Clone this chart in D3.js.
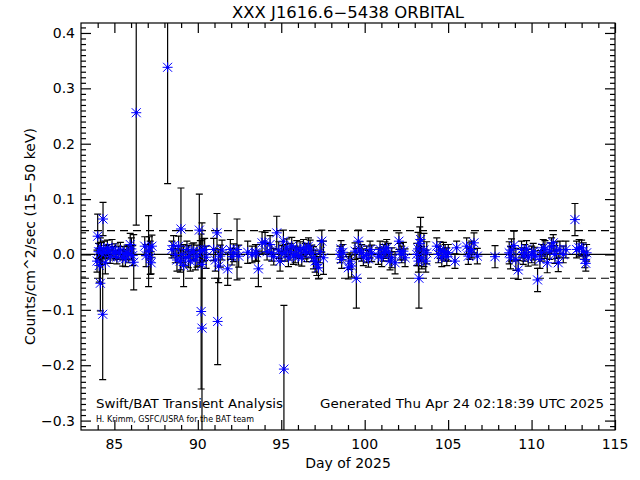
<!DOCTYPE html>
<html><head><meta charset="utf-8">
<script src="https://cdn.jsdelivr.net/npm/d3@7"></script>
<style>body{margin:0;background:#fff}svg{display:block}text{font-family:"DejaVu Sans",sans-serif}</style>
</head><body><div id="chart"></div>
<script>
const title = "XXX J1616.6\u22125438 ORBITAL";
const xLabel = "Day of 2025";
const yLabel = "Counts/cm^2/sec (15\u221250 keV)";
const xTicks = [85, 90, 95, 100, 105, 110, 115];
const yTicks = [-0.3, -0.2, -0.1, 0.0, 0.1, 0.2, 0.3, 0.4];
const threshold = 0.043;
const days = [
83.96,84.0,84.05,84.1,84.16,84.16,84.22,84.3,84.32,84.36,84.46,84.5,84.58,84.66,84.75,84.86,84.95,85.06,85.15,85.26,85.36,85.5,85.58,85.66,85.76,85.86,85.95,86.02,86.1,86.16,86.31,86.82,86.9,87.05,87.1,87.15,87.25,87.2,
88.19,88.45,88.55,88.65,88.75,88.85,88.95,88.99,89.05,89.15,89.25,89.35,89.45,89.55,89.65,89.75,89.85,89.95,90.09,90.15,90.2,90.25,90.25,90.3,90.41,90.5,90.95,91.05,91.15,91.19,91.25,91.35,91.45,91.79,91.95,92.05,92.15,92.35,92.45,92.99,93.25,93.45,93.53,93.63,93.85,
94.03,94.15,94.33,94.43,94.55,94.73,94.85,94.93,95.03,95.13,95.16,95.23,95.33,95.43,95.53,95.63,95.73,95.83,95.93,96.03,96.13,96.23,96.33,96.43,96.53,96.63,96.73,96.83,96.93,97.03,97.13,97.23,97.33,97.43,97.53,
98.52,98.58,98.62,98.7,99.02,99.12,99.22,99.42,99.5,99.62,99.72,99.82,99.92,100.12,100.22,100.32,100.42,100.82,100.92,101.02,101.12,101.22,101.32,101.42,101.52,101.62,101.82,102.05,102.12,102.22,102.32,102.42,103.12,103.2,103.22,103.25,103.3,103.35,103.42,103.55,103.66,103.72,104.32,104.42,104.52,104.62,104.72,104.82,104.92,
105.01,105.41,105.51,106.11,106.21,106.3,106.41,106.55,106.75,107.81,108.66,108.74,108.8,108.94,109.06,109.2,109.4,109.5,109.6,109.7,109.8,110.0,110.1,110.2,110.36,110.5,110.6,110.7,110.8,110.94,111.1,111.2,111.3,111.4,111.5,111.6,111.7,111.9,112.06,112.6,112.7,112.85,113.0,113.1,113.2,113.3,113.25
];
const rates = [
-0.012,0.033,0.005,-0.02,-0.052,0.012,0.002,-0.108,0.064,0.009,-0.015,0.004,0.012,0.006,-0.004,0.012,0.002,0.006,-0.005,0.003,0.008,-0.006,0.002,-0.008,0.004,0.0,0.018,0.010,-0.002,-0.014,0.256,0.015,-0.002,0.006,0.012,-0.006,0.015,-0.015,
0.338,0.009,0.016,0.0,-0.01,0.015,-0.012,0.046,0.0,-0.02,-0.006,0.009,-0.004,-0.012,0.004,0.006,-0.01,-0.003,0.044,0.005,-0.103,-0.133,-0.018,0.008,0.009,-0.005,0.009,-0.01,0.039,-0.121,-0.021,-0.003,0.008,-0.026,0.009,-0.004,0.003,0.009,-0.003,0.004,0.0,0.003,0.003,-0.026,0.021,
0.022,0.005,0.018,0.003,-0.004,0.039,0.008,-0.012,0.002,0.024,-0.207,0.003,0.012,-0.006,0.005,0.015,-0.003,0.0,0.01,-0.003,0.008,-0.006,0.012,0.006,0.003,0.015,0.010,0.002,-0.006,-0.012,-0.018,-0.024,0.005,0.024,-0.006,
0.0,0.01,-0.009,0.004,-0.024,-0.012,-0.021,0.006,-0.043,0.024,0.008,0.003,-0.005,0.0,-0.008,0.009,0.002,-0.003,0.009,-0.006,0.003,0.008,0.012,0.004,-0.012,-0.006,-0.015,0.024,0.005,0.0,0.006,-0.006,0.0,0.01,-0.012,-0.043,0.02,0.027,-0.006,0.008,-0.012,0.003,0.015,0.0,0.008,-0.006,0.006,0.003,-0.004,
0.003,-0.012,0.012,0.015,-0.003,0.006,0.009,0.021,-0.003,-0.004,0.003,-0.006,0.008,0.016,-0.009,-0.028,0.009,-0.003,0.003,0.01,-0.006,0.0,0.005,-0.003,-0.046,-0.009,0.003,0.012,0.009,-0.015,0.006,0.015,0.021,0.0,0.008,-0.015,0.009,0.0,0.009,0.063,0.009,0.012,0.012,0.006,-0.009,0.003,-0.016
];
const errors = [
0.02,0.04,0.015,0.03,0.05,0.018,0.02,0.118,0.03,0.015,0.02,0.012,0.014,0.012,0.012,0.015,0.012,0.013,0.012,0.012,0.014,0.015,0.012,0.014,0.013,0.015,0.02,0.02,0.018,0.05,0.203,0.017,0.02,0.064,0.02,0.03,0.02,0.02,
0.21,0.015,0.018,0.015,0.02,0.018,0.02,0.074,0.015,0.038,0.015,0.015,0.02,0.018,0.015,0.015,0.018,0.02,0.065,0.02,0.14,0.19,0.025,0.02,0.02,0.02,0.02,0.02,0.035,0.078,0.03,0.02,0.018,0.03,0.018,0.015,0.016,0.055,0.02,0.02,0.015,0.015,0.015,0.032,0.02,
0.018,0.015,0.016,0.015,0.015,0.03,0.015,0.018,0.014,0.02,0.115,0.015,0.016,0.016,0.015,0.016,0.015,0.015,0.015,0.016,0.015,0.015,0.015,0.014,0.016,0.015,0.016,0.015,0.02,0.02,0.02,0.02,0.02,0.02,0.03,
0.015,0.015,0.016,0.014,0.02,0.015,0.02,0.015,0.054,0.02,0.015,0.015,0.015,0.015,0.015,0.015,0.015,0.015,0.015,0.016,0.015,0.015,0.015,0.016,0.016,0.018,0.02,0.015,0.015,0.015,0.016,0.016,0.02,0.03,0.02,0.054,0.03,0.04,0.02,0.03,0.02,0.02,0.015,0.015,0.015,0.016,0.016,0.015,0.016,
0.015,0.013,0.012,0.015,0.015,0.015,0.015,0.018,0.014,0.02,0.02,0.02,0.02,0.026,0.02,0.017,0.015,0.015,0.015,0.015,0.015,0.015,0.015,0.016,0.021,0.016,0.015,0.015,0.016,0.018,0.015,0.015,0.015,0.016,0.015,0.016,0.015,0.015,0.015,0.029,0.015,0.015,0.014,0.015,0.015,0.015,0.014
];

const W = 640, H = 480;
const L = 81, R = 615, T = 23, B = 430;
const svg = d3.select("#chart").append("svg").attr("width", W).attr("height", H);
const x = d3.scaleLinear().domain([83, 115]).range([L, R]);
const y = d3.scaleLinear().domain([-0.317, 0.418]).range([B, T]);

svg.append("clipPath").attr("id", "clip").append("rect")
  .attr("x", L).attr("y", T).attr("width", R - L).attr("height", B - T);

const data = days.map((d, i) => ({d, r: rates[i], e: errors[i]}));
const plot = svg.append("g").attr("clip-path", "url(#clip)");

// zero line and thresholds
plot.append("line").attr("x1", L).attr("x2", R).attr("y1", y(0)).attr("y2", y(0))
  .attr("stroke", "#000").attr("stroke-width", 1.2);
[threshold, -threshold].forEach(v => {
  plot.append("line").attr("x1", L).attr("x2", R).attr("y1", y(v)).attr("y2", y(v))
    .attr("stroke", "#000").attr("stroke-width", 1.2).attr("stroke-dasharray", "8,5");
});

// error bars
const eb = plot.append("g").attr("stroke", "#000").attr("stroke-width", 1.2).attr("fill", "none");
eb.selectAll("path").data(data).join("path").attr("d", p => {
  const cx = x(p.d), y1 = y(p.r + p.e), y2 = y(p.r - p.e), c = 3.5;
  return `M${cx},${y1}V${y2}M${cx - c},${y1}H${cx + c}M${cx - c},${y2}H${cx + c}`;
});

// star symbols
const s = 5, dd = 4.5;
const stars = plot.append("g");
stars.selectAll("path").data(data).join("path")
  .attr("d", p => {
    const cx = x(p.d), cy = y(p.r);
    return `M${cx - s},${cy}H${cx + s}M${cx},${cy - s}V${cy + s}M${cx - dd},${cy - dd}L${cx + dd},${cy + dd}M${cx - dd},${cy + dd}L${cx + dd},${cy - dd}`;
  })
  .attr("stroke", "#0000ff").attr("stroke-width", 1).attr("fill", "none");
stars.selectAll("circle").data(data).join("circle")
  .attr("cx", p => x(p.d)).attr("cy", p => y(p.r)).attr("r", 1.6).attr("fill", "#0000ff");

// frame
svg.append("rect").attr("x", L).attr("y", T).attr("width", R - L).attr("height", B - T)
  .attr("fill", "none").attr("stroke", "#000").attr("stroke-width", 1.2);

// axes
const xMinor = d3.range(84, 116, 1).filter(v => !xTicks.includes(v));
const yMinor = d3.range(-31, 42, 1).map(v => v / 100).filter(v => !yTicks.some(t => Math.abs(t - v) < 1e-9));
function axisG(axisFn, scale, vals, size, tf, labels) {
  const a = axisFn(scale).tickValues(vals).tickSizeInner(size).tickSizeOuter(0);
  if (labels) a.tickFormat(d => d3.format(labels)(d).replace("-", "\u2212")); else a.tickFormat("");
  const g = svg.append("g").attr("transform", tf).call(a);
  g.select(".domain").remove();
  g.selectAll("line").attr("stroke", "#000").attr("stroke-width", 1.2);
  return g;
}
// bottom
const gb = axisG(d3.axisTop, x, xTicks, 10, `translate(0,${B})`, null);
axisG(d3.axisTop, x, xMinor, 5, `translate(0,${B})`, null);
axisG(d3.axisBottom, x, xTicks, 10, `translate(0,${T})`, null);
axisG(d3.axisBottom, x, xMinor, 5, `translate(0,${T})`, null);
axisG(d3.axisRight, y, yTicks, 10, `translate(${L},0)`, null);
axisG(d3.axisRight, y, yMinor, 5, `translate(${L},0)`, null);
axisG(d3.axisLeft, y, yTicks, 10, `translate(${R},0)`, null);
axisG(d3.axisLeft, y, yMinor, 5, `translate(${R},0)`, null);

// tick labels
svg.append("g").selectAll("text").data(xTicks).join("text")
  .attr("x", d => x(d)).attr("y", 449).attr("text-anchor", "middle")
  .attr("font-size", 14).text(d => d);
svg.append("g").selectAll("text").data(yTicks).join("text")
  .attr("x", 75).attr("y", d => y(d) + 5).attr("text-anchor", "end")
  .attr("font-size", 14).text(d => d3.format(".1f")(d).replace("-", "\u2212"));

// titles
svg.append("text").attr("x", (L + R) / 2).attr("y", 18).attr("text-anchor", "middle")
  .attr("font-size", 15).attr("textLength", 232).attr("lengthAdjust", "spacingAndGlyphs").text(title);
svg.append("text").attr("x", (L + R) / 2).attr("y", 468).attr("text-anchor", "middle")
  .attr("font-size", 14).text(xLabel);
svg.append("text").attr("transform", `translate(35,${(T + B) / 2 + 10}) rotate(-90)`)
  .attr("text-anchor", "middle").attr("font-size", 14).text(yLabel);

svg.append("text").attr("x", 96).attr("y", 408).attr("font-size", 13)
  .attr("textLength", 187).attr("lengthAdjust", "spacingAndGlyphs").text("Swift/BAT Transient Analysis");
svg.append("text").attr("x", 604).attr("y", 408).attr("font-size", 13).attr("text-anchor", "end")
  .attr("textLength", 284).attr("lengthAdjust", "spacingAndGlyphs").text("Generated Thu Apr 24 02:18:39 UTC 2025");
svg.append("text").attr("x", 96).attr("y", 422).attr("font-size", 8)
  .attr("textLength", 158).attr("lengthAdjust", "spacingAndGlyphs").text("H. Krimm, GSFC/USRA for the BAT team");
</script></body></html>
